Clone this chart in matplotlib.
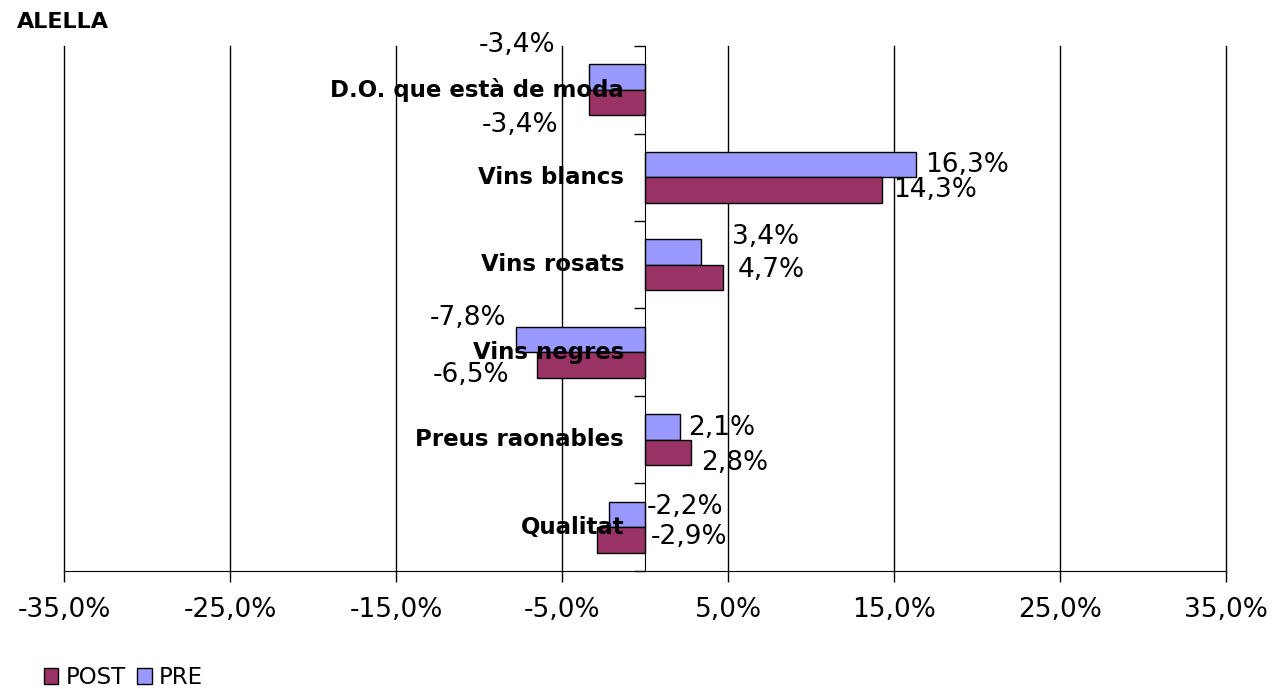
import numpy as np
import matplotlib.pyplot as plt
from matplotlib.patches import Patch

categories = ['D.O. que està de moda', 'Vins blancs', 'Vins rosats',
              'Vins negres', 'Preus raonables', 'Qualitat']
pre = [-3.4, 16.3, 3.4, -7.8, 2.1, -2.2]
post = [-3.4, 14.3, 4.7, -6.5, 2.8, -2.9]
xticks = [-35, -25, -15, -5, 5, 15, 25, 35]

# label offsets in pixels from bar end (x) and bar centre (y, down = positive)
pre_off = [(-33, -32, 'right'), (10, 0, 'left'), (31, -15, 'left'),
           (-9, -22, 'right'), (8, 1, 'left'), (38, -8, 'left')]
post_off = [(-30, 23, 'right'), (11, 0, 'left'), (15, -7, 'left'),
            (-28, 10, 'right'), (10, 11, 'left'), (54, -3, 'left')]

def fmt(v):
    return ('%.1f%%' % v).replace('.', ',')

fig = plt.figure(figsize=(12.76, 6.89), dpi=100)
ax = fig.add_axes([0.0502, 0.1713, 0.9106, 0.7619])

y = np.arange(len(categories))
h = 0.29
ax.barh(y - h / 2, pre, height=h, color='#9999FF', edgecolor='black', linewidth=1, zorder=3)
ax.barh(y + h / 2, post, height=h, color='#993366', edgecolor='black', linewidth=1, zorder=3)

ax.set_xlim(-35, 35)
ax.set_ylim(len(categories) - 0.5, -0.5)
ax.set_xticks(xticks)
ax.set_xticklabels([fmt(t) for t in xticks], fontsize=19)
ax.tick_params(axis='x', direction='out', length=8, width=1, pad=11)
ax.grid(axis='x', color='black', linewidth=1, zorder=0)
for gl in ax.get_xgridlines():
    gl.set_clip_on(False)

ax.spines['top'].set_visible(False)
ax.spines['right'].set_visible(False)
ax.spines['left'].set_position(('data', 0))
ax.spines['left'].set_zorder(4)
ax.set_yticks(np.arange(len(categories) + 1) - 0.5)
ax.set_yticklabels([])
ax.tick_params(axis='y', direction='out', length=8, width=1)

for i, c in enumerate(categories):
    ax.annotate(c, xy=(0, i), xytext=(-21, 0), textcoords='offset pixels',
                ha='right', va='center', fontsize=16.5, fontweight='bold', zorder=5)

for i in range(len(categories)):
    dx, dy, ha = pre_off[i]
    ax.annotate(fmt(pre[i]), xy=(pre[i], i - h / 2), xytext=(dx, -dy),
                textcoords='offset pixels', ha=ha, va='center', fontsize=19, zorder=5)
    dx, dy, ha = post_off[i]
    ax.annotate(fmt(post[i]), xy=(post[i], i + h / 2), xytext=(dx, -dy),
                textcoords='offset pixels', ha=ha, va='center', fontsize=19, zorder=5)

fig.text(0.013, 0.968, 'ALELLA', fontsize=16, fontweight='bold', va='center', ha='left')

handles = [Patch(facecolor='#993366', edgecolor='black', label='POST'),
           Patch(facecolor='#9999FF', edgecolor='black', label='PRE')]
fig.legend(handles=handles, loc='lower left', bbox_to_anchor=(0.018, -0.03), ncol=2,
           frameon=False, fontsize=16.5, handlelength=0.65, handleheight=0.65,
           handletextpad=0.3, columnspacing=0.5)

fig.savefig('out.png', dpi=100)
